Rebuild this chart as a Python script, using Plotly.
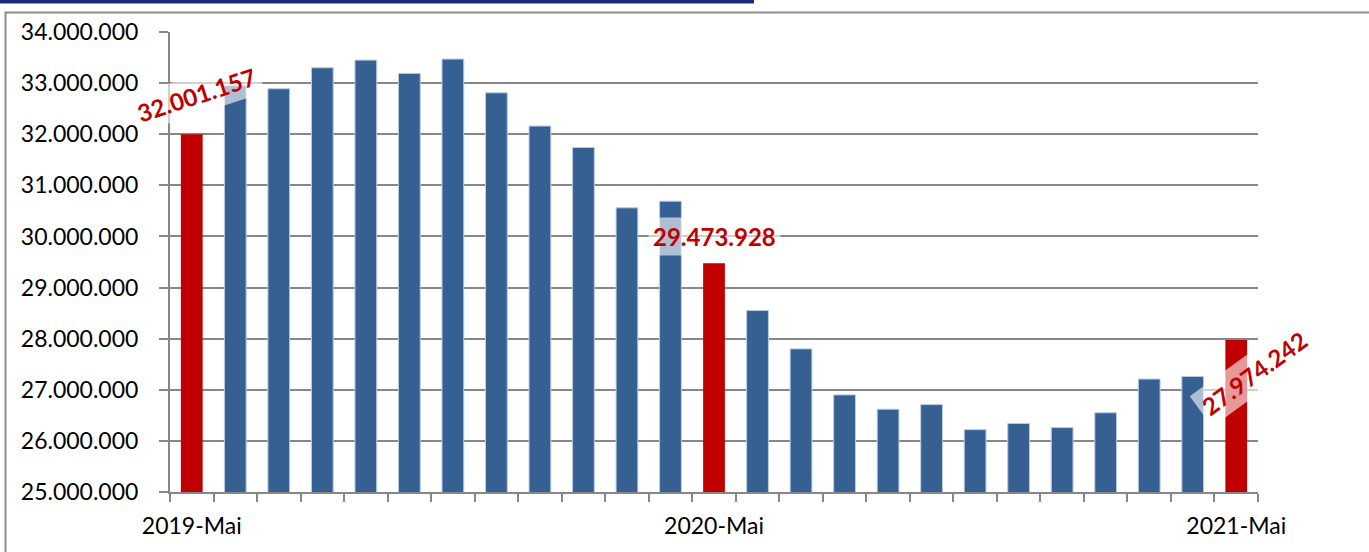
import plotly.graph_objects as go

# ---- data ----
months = ["2019-Mai", "2019-Jun", "2019-Jul", "2019-Aug", "2019-Sep", "2019-Okt", "2019-Nov",
          "2019-Dez", "2020-Jan", "2020-Feb", "2020-Mär", "2020-Apr", "2020-Mai", "2020-Jun",
          "2020-Jul", "2020-Aug", "2020-Sep", "2020-Okt", "2020-Nov", "2020-Dez", "2021-Jan",
          "2021-Feb", "2021-Mär", "2021-Apr", "2021-Mai"]
values = [32001157, 32950000, 32890000, 33300000, 33450000, 33190000, 33470000,
          32810000, 32160000, 31740000, 30560000, 30690000, 29473928, 28550000,
          27800000, 26900000, 26620000, 26710000, 26220000, 26340000, 26260000,
          26550000, 27210000, 27260000, 27974242]
highlight_idx = [0, 12, 24]          # May values shown in red with labels
tick_idx = [0, 12, 24]
tick_labels = [months[i] for i in tick_idx]

BLUE = "#366092"
RED = "#C00000"
GRID = "#878787"

x = list(range(len(values)))
colors = [RED if i in highlight_idx else BLUE for i in x]
line_colors = ["rgba(0,0,0,0)" if i in highlight_idx else "#B8CCE4" for i in x]

fig = go.Figure()
fig.add_trace(go.Bar(
    x=x, y=values, width=0.5,
    marker=dict(color=colors, line=dict(color=line_colors, width=1)),
    hoverinfo="skip", showlegend=False,
))

def fmt(v):
    return f"{v:,}".replace(",", ".")

# label placements (x index, y value, angle)
label_pos = [(0.12, 32780000, -18), (12.0, 30000000, 0), (24.43, 27330000, -36)]
for (lx, ly, ang), i in zip(label_pos, highlight_idx):
    fig.add_annotation(
        x=lx, y=ly, text=fmt(values[i]), showarrow=False, textangle=ang,
        font=dict(family="Lato", size=24, color=RED, weight="bold"),
        bgcolor="rgba(255,255,255,0.6)", borderpad=4,
    )

W, H = 1369, 552
L, R, T, B = 170, 1369 - 1258, 32, 552 - 492
pw, ph = W - L - R, H - T - B

def px(xp):
    return (xp - L) / pw

def py(yp):
    return 1 - (yp - T) / ph

shapes = [
    dict(type="rect", xref="paper", yref="paper", x0=px(5.5), x1=px(1400), y0=py(12.5), y1=py(600),
         line=dict(color="#8C8C8C", width=2), fillcolor="rgba(0,0,0,0)", layer="below"),
    dict(type="rect", xref="paper", yref="paper", x0=px(-5), x1=px(754), y0=py(3.5), y1=py(-5),
         line=dict(width=0), fillcolor="#1C2B78", layer="below"),
]

fig.update_layout(
    width=W, height=H,
    margin=dict(l=L, r=R, t=T, b=B, pad=0),
    paper_bgcolor="white", plot_bgcolor="white",
    separators=",.",
    bargap=0.5,
    font=dict(family="Lato", size=23, color="#000000"),
    shapes=shapes,
    xaxis=dict(
        range=[-0.5, len(values) - 0.5],
        tickmode="array", tickvals=tick_idx, ticktext=tick_labels,
        ticks="", showgrid=False, zeroline=False,
        showline=True, linecolor=GRID, linewidth=2,
        ticklabelstandoff=12,
        tickfont=dict(family="Lato", size=23, color="#000000"),
        minor=dict(tick0=-0.5, dtick=1, ticks="outside", ticklen=8, tickwidth=2,
                   tickcolor=GRID, showgrid=False),
    ),
    yaxis=dict(
        range=[25000000, 34000000], dtick=1000000, tick0=25000000,
        tickformat=",d",
        showgrid=True, gridcolor=GRID, gridwidth=2,
        ticks="outside", ticklen=9, tickwidth=2, tickcolor=GRID,
        showline=True, linecolor=GRID, linewidth=2,
        zeroline=False, ticklabelstandoff=16,
        tickfont=dict(family="Lato", size=23, color="#000000"),
    ),
)

fig.write_html("out.html", config={"displayModeBar": False},
               post_script="document.body.style.margin='0';document.body.style.overflow='hidden';")
